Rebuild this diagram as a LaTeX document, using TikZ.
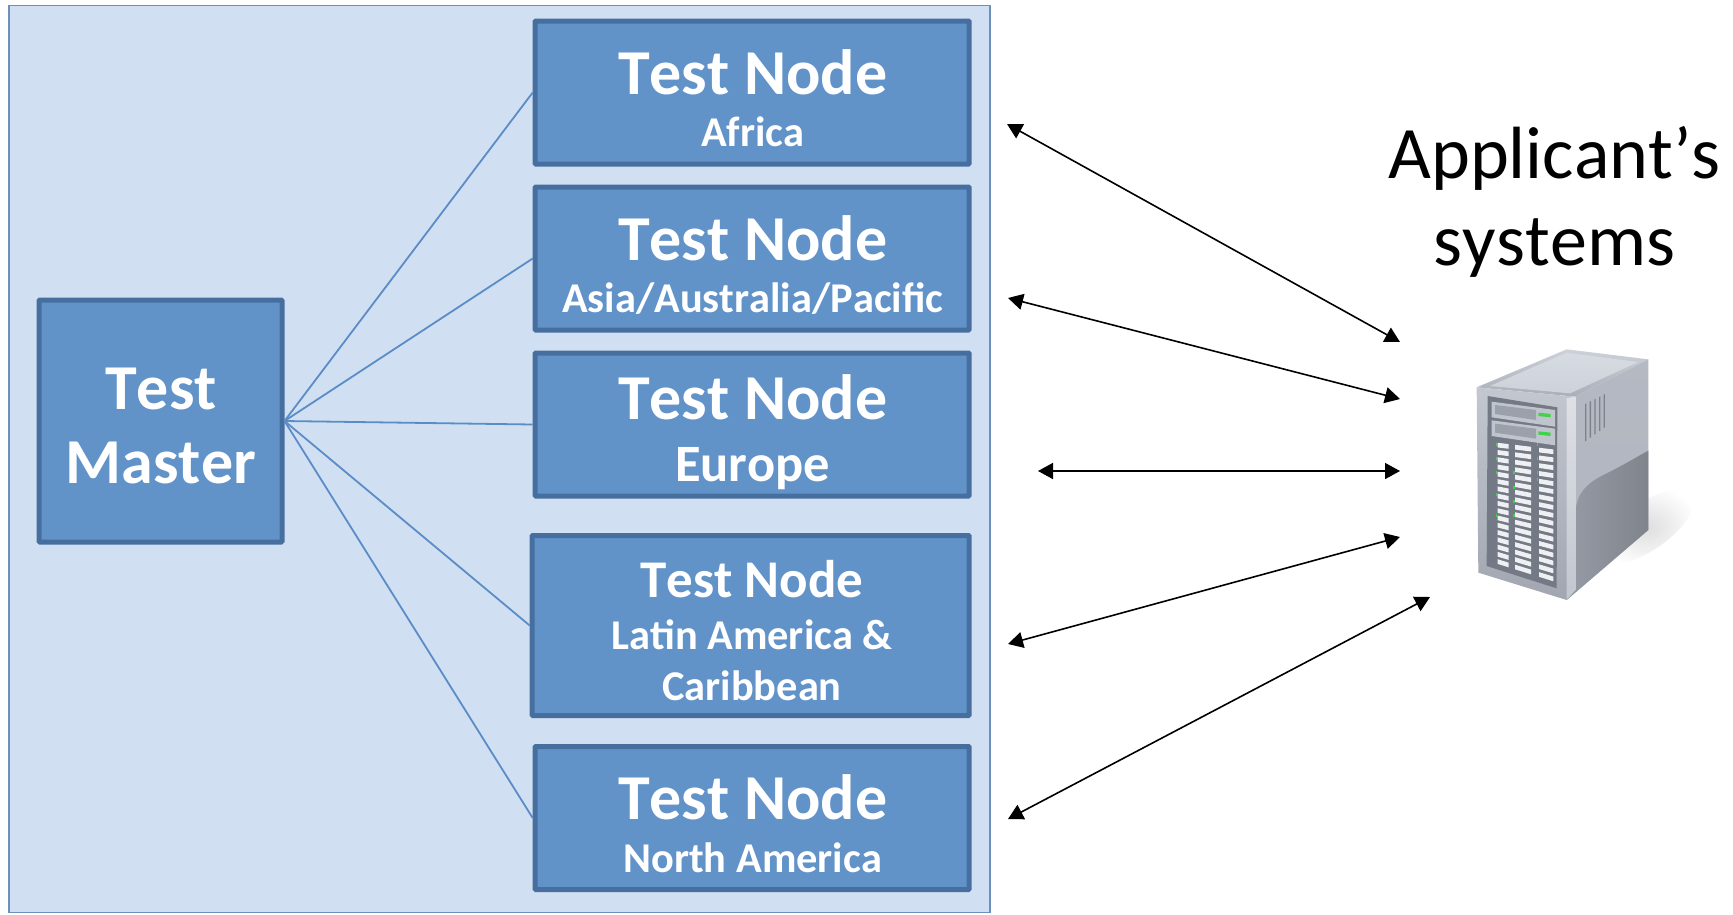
\documentclass[tikz,border=0pt]{standalone}
\usepackage{fontspec}
\setmainfont[Kerning=Off]{Carlito}
\usetikzlibrary{arrows.meta}
\definecolor{panelfill}{HTML}{D0E0F2}
\definecolor{panelline}{HTML}{6C8FBC}
\definecolor{boxfill}{HTML}{6193C9}
\definecolor{boxline}{HTML}{466F9F}
\definecolor{linkline}{HTML}{5B8CC6}
\definecolor{srvtop}{HTML}{CDD2DA}
\definecolor{srvtopd}{HTML}{A9AEB8}
\definecolor{srvside}{HTML}{B0B5BF}
\definecolor{srvsidel}{HTML}{969BA5}
\definecolor{srvfront}{HTML}{C2C7D0}
\definecolor{srvfrontd}{HTML}{A1A6B0}
\definecolor{srvedge}{HTML}{DDE0E5}
\definecolor{srvpanel}{HTML}{747A85}
\definecolor{srvbay}{HTML}{C0C4CC}
\definecolor{srvbayd}{HTML}{9BA0AA}
\definecolor{srvslot}{HTML}{EEF0F3}
\definecolor{srvvent}{HTML}{7D828C}
\definecolor{srvled}{HTML}{3FD24A}
\tikzset{
  panel/.style={draw=panelline,fill=panelfill,line width=1.5pt,inner sep=0pt},
  testbox/.style={draw=boxline,fill=boxfill,line width=5pt,inner sep=0pt,rounded corners=0.8pt},
  big/.style={anchor=base,text=white,inner sep=0pt,font=\fontsize{64}{64}\selectfont\bfseries},
  mid/.style={anchor=base,text=white,inner sep=0pt,font=\fontsize{53}{53}\selectfont\bfseries},
  sub/.style={anchor=base,text=white,inner sep=0pt,font=\fontsize{42.4}{42.4}\selectfont\bfseries},
  eur/.style={anchor=base,text=white,inner sep=0pt,font=\fontsize{52.5}{52.5}\selectfont\bfseries},
  side/.style={anchor=base,text=black,inner sep=0pt,font=\fontsize{74}{74}\selectfont},
  link/.style={draw=linkline,line width=1.8pt},
  twoway/.style={draw=black,line width=1.6pt,{Triangle[length=15pt,width=16pt]}-{Triangle[length=15pt,width=16pt]}}
}
\begin{document}
\begin{tikzpicture}[x=1pt,y=-1pt]
\useasboundingbox (0,0) rectangle (1733,914);
\fill[white] (0,0) rectangle (1733,914);
\draw[panel] (9,5.5) rectangle (990,912.5);
% boxes
\node[testbox,minimum width=243pt,minimum height=242pt] (master) at (160.5,421) {};
\node[testbox,minimum width=434pt,minimum height=143pt] (africa) at (752.2,92.5) {};
\node[testbox,minimum width=434pt,minimum height=143pt] (asia) at (752.2,258.5) {};
\node[testbox,minimum width=434pt,minimum height=143pt] (europe) at (752.2,424.5) {};
\node[testbox,minimum width=437pt,minimum height=180pt] (latin) at (750.7,625.5) {};
\node[testbox,minimum width=434pt,minimum height=143pt] (north) at (752.2,818) {};
% links
\draw[link] (master.east) -- (africa.west);
\draw[link] (master.east) -- (asia.west);
\draw[link] (master.east) -- (europe.west);
\draw[link] (master.east) -- (latin.west);
\draw[link] (master.east) -- (north.west);
% labels
\node[big] (t0a) at (161,409) {Test};
\node[big] (t0b) at (161,483) {Master};
\node[big] (t1a) at (752.7,94) {Test Node};
\node[sub] (t1b) at (752.7,146) {Africa};
\node[big] (t2a) at (752.7,260) {Test Node};
\node[sub] (t2b) at (752.7,312) {Asia/Australia/Pacific};
\node[big] (t3a) at (752.7,419) {Test Node};
\node[eur] (t3b) at (752.7,481.5) {Europe};
\node[mid] (t4a) at (752,597) {Test Node};
\node[sub] (t4b) at (752,649) {Latin America \&};
\node[sub] (t4c) at (752,700) {Caribbean};
\node[big] (t5a) at (752.7,819) {Test Node};
\node[sub] (t5b) at (752.7,872) {North America};
\node[side] (s1) at (1554.5,178) {Applicant’s};
\node[side] (s2) at (1554.5,265.5) {systems};
% arrow ends
\coordinate (a1l) at (1007,124); \coordinate (a1r) at (1400,342);
\coordinate (a2l) at (1008,298); \coordinate (a2r) at (1400,399);
\coordinate (a3l) at (1038,471); \coordinate (a3r) at (1400,471);
\coordinate (a4l) at (1008,644); \coordinate (a4r) at (1400,537);
\coordinate (a5l) at (1008,819); \coordinate (a5r) at (1430,597);
\draw[twoway] (a1l) -- (a1r);
\draw[twoway] (a2l) -- (a2r);
\draw[twoway] (a3l) -- (a3r);
\draw[twoway] (a4l) -- (a4r);
\draw[twoway] (a5l) -- (a5r);
% server
\begin{scope}[shift={(1450,330)},x=0.3333pt,y=-0.3333pt]
  % soft shadow
  \shade[inner color=black!13,outer color=white,rotate around={35:(590,590)}] (590,590) ellipse (165 and 70);
  % top face
  \shade[top color=srvtop,bottom color=srvtopd] (80,172) -- (350,58) -- (595,88) -- (375,200) -- cycle;
  \shade[top color=srvtop!80!white,bottom color=srvtop] (120,168) -- (350,68) -- (565,96) -- (360,190) -- cycle;
  % side face, upper and lower
  \shade[top color=srvtopd!70!srvtop,bottom color=srvside] (375,200) -- (595,88) -- (595,600) -- (350,810) -- (378,778) -- cycle;
  \shade[left color=srvsidel,right color=srvsidel!85!black] (378,530) .. controls (390,470) and (430,450) .. (480,425) .. controls (530,400) and (570,375) .. (595,362) -- (595,600) -- (350,810) -- (378,778) -- cycle;
  % front frame
  \shade[top color=srvfront,bottom color=srvfrontd] (80,172) -- (375,200) -- (375,778) -- (350,810) -- (85,728) -- cycle;
  \shade[top color=srvedge,bottom color=srvfront] (350,205) -- (378,200) -- (378,778) -- (350,808) -- cycle;
  % front panel
  \fill[srvpanel] (113,198) -- (322,232) -- (320,775) -- (110,708) -- cycle;
  \foreach \yy in {0,1} {
    \fill[srvbay,shift={(0,\yy*56)}] (125,215) -- (315,240) -- (315,290) -- (125,262) -- cycle;
    \fill[srvbayd,shift={(0,\yy*56)}] (135,225) -- (258,240) -- (258,270) -- (135,252) -- cycle;
    \fill[srvled,shift={(0,\yy*56)}] (265,248) -- (302,252) -- (302,262) -- (265,258) -- cycle;
  }
  \foreach \r in {0,...,16} {
    \pgfmathsetmacro{\yl}{335+\r*21.5}
    \pgfmathsetmacro{\sl}{0.12+\r*0.012}
    \foreach \xl/\xr in {143/176,195/243,267/310} {
      \fill[srvslot] (\xl,{\yl+(\xl-115)*\sl}) -- (\xr,{\yl+(\xr-115)*\sl}) -- (\xr,{\yl+(\xr-115)*\sl+14}) -- (\xl,{\yl+(\xl-115)*\sl+14}) -- cycle;
    }
  }
  \foreach \xx/\r in {137/0,137/2,137/4,137/7,137/10,190/4,190/6,190/8,190/10,260/0,260/2,260/4,260/5} {
    \fill[srvled] (\xx,{338+\r*21.5}) rectangle ++(4,9);
  }
  % vents
  \foreach \vv in {0,...,4} {
    \fill[srvvent] ({405+\vv*14},{222-\vv*7}) -- ({409+\vv*14},{220-\vv*7}) -- ({409+\vv*14},{332-\vv*10}) -- ({405+\vv*14},{334-\vv*10}) -- cycle;
  }
\end{scope}
\end{tikzpicture}
\end{document}
